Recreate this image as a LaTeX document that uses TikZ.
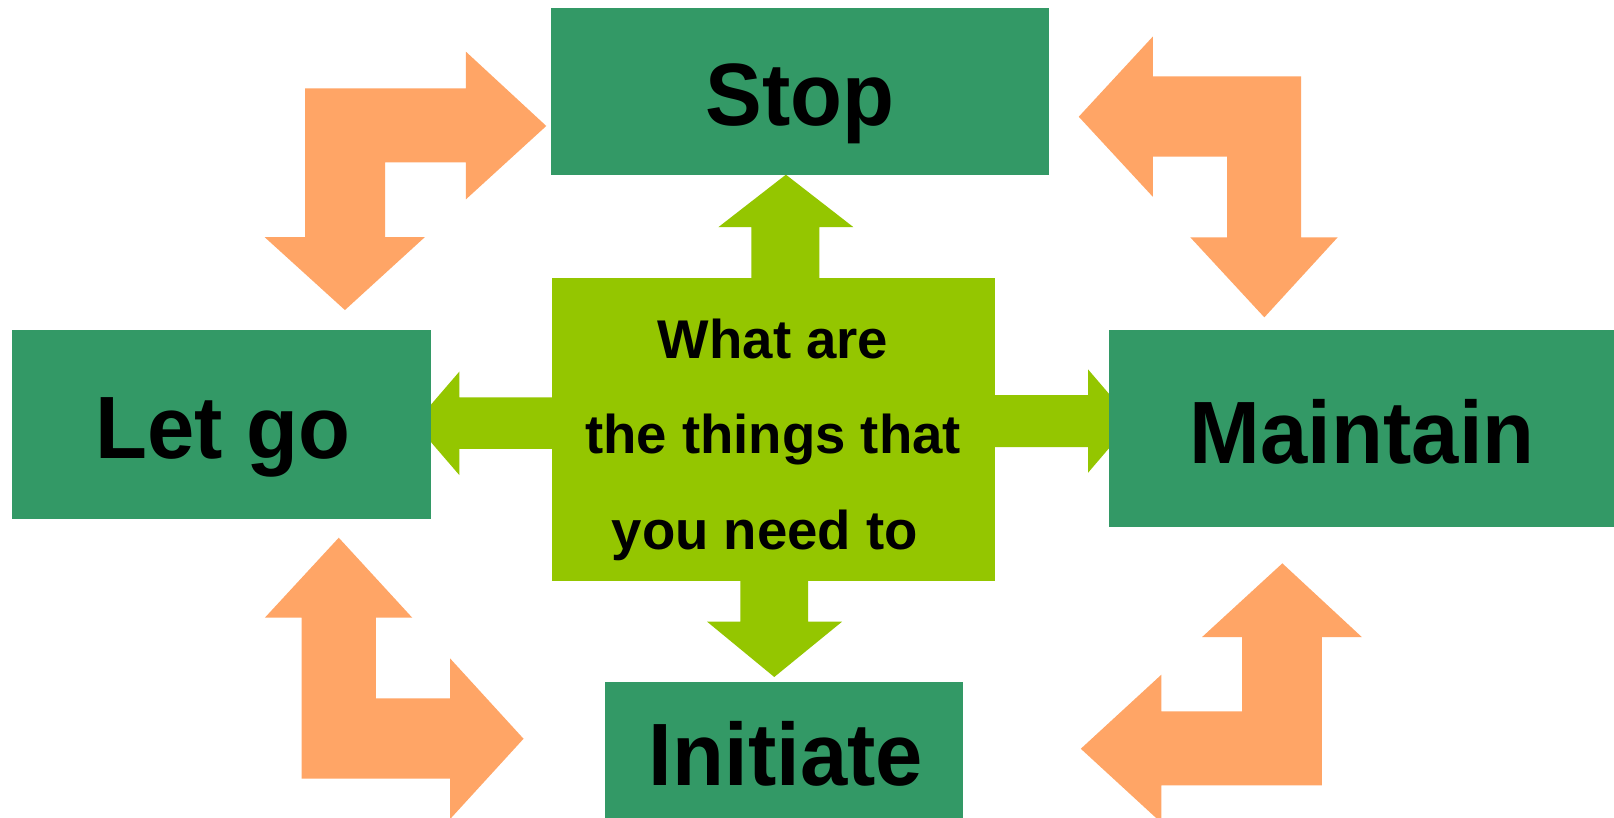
\documentclass[tikz,border=0pt]{standalone}
\usepackage{fontspec}
\setmainfont{Liberation Sans}
\definecolor{boxgreen}{RGB}{51,153,102}
\definecolor{limegreen}{RGB}{148,198,0}
\definecolor{peach}{RGB}{255,165,102}
\begin{document}
\begin{tikzpicture}[x=1pt,y=-1pt,
  box/.style={fill=boxgreen, draw=none, inner sep=0pt, outer sep=0pt},
  hub/.style={fill=limegreen, draw=none, inner sep=0pt, outer sep=0pt},
  biglabel/.style={font=\bfseries\fontsize{86}{86}\selectfont\addfontfeature{FakeStretch=0.96}, inner sep=0pt, text=black},
  hublabel/.style={font=\bfseries\fontsize{53}{92.8}\selectfont, inner sep=0pt, text=black},
  orangearrow/.style={fill=peach, draw=none},
  limearrow/.style={fill=limegreen, draw=none}]
\clip (0,0) rectangle (1568,794);
\fill[white] (0,0) rectangle (1568,794);

% orange bent arrows
\fill[orangearrow] (296.4,85.8) -- (452.6,85.8) -- (452.6,50.2) -- (530.7,122.4) -- (452.6,193.7)
  -- (452.6,157.7) -- (374.2,157.7) -- (374.2,230.3) -- (412.8,230.3) -- (335.1,301.2)
  -- (257,230.3) -- (296.4,230.3) -- cycle;
\fill[orangearrow] (1048,113.4) -- (1119.9,35.6) -- (1119.9,74.2) -- (1264.1,74.2) -- (1264.1,230.6)
  -- (1299.5,230.6) -- (1228.3,308.3) -- (1156.4,230.6) -- (1192.2,230.6) -- (1192.2,152.2)
  -- (1119.9,152.2) -- (1119.9,191.1) -- cycle;
\fill[orangearrow] (329.1,522.4) -- (400.5,600.1) -- (365.1,600.1) -- (365.1,678.5) -- (437.2,678.5)
  -- (437.2,639.6) -- (508.6,717.7) -- (437.2,795.8) -- (437.2,756.5) -- (293,756.5)
  -- (293,600.1) -- (257.3,600.1) -- cycle;
\fill[orangearrow] (1245.8,547.3) -- (1323,618.9) -- (1284.1,618.9) -- (1284.1,763) -- (1128.2,763)
  -- (1128.2,799.3) -- (1050,727.4) -- (1128.2,655.5) -- (1128.2,691.1) -- (1206.6,691.1)
  -- (1206.6,618.9) -- (1167.8,618.9) -- cycle;

% lime arrows from the hub
\fill[limearrow] (730,275) -- (730,220.6) -- (698,220.6) -- (763.5,169.7) -- (829,220.6) -- (796,220.6) -- (796,275) -- cycle;
\fill[limearrow] (719.3,560) -- (719.3,604) -- (687,604) -- (752.2,657.7) -- (818,604) -- (785,604) -- (785,560) -- cycle;
\fill[limearrow] (540,386) -- (446.2,386) -- (446.2,361.1) -- (403,411.3) -- (446.2,461.5) -- (446.2,436.2) -- (540,436.2) -- cycle;
\fill[limearrow] (962,383.8) -- (1057,383.8) -- (1057,358.8) -- (1100,409) -- (1057,459.3) -- (1057,434.3) -- (962,434.3) -- cycle;

% hub
\node[hub, minimum width=430.2pt, minimum height=294.3pt] (hub) at (751.4,416.95) {};

% boxes
\node[box, minimum width=483.2pt, minimum height=161.9pt] (stop) at (777.1,88.75) {};
\node[box, minimum width=407pt, minimum height=183.6pt] (letgo) at (215.3,412.4) {};
\node[box, minimum width=490.7pt, minimum height=191.1pt] (maintain) at (1322.65,416.15) {};
\node[box, minimum width=348.2pt, minimum height=140pt] (initiate) at (761.9,732.6) {};

% labels
\node[biglabel, anchor=base] (stoplbl) at (777.5,122.4) {Stop};
\node[biglabel, anchor=base] (letgolbl) at (216.5,445.3) {Let go};
\node[biglabel, anchor=base] (maintainlbl) at (1323.4,450.1) {Maintain};
\node[biglabel, anchor=base] (initiatelbl) at (763.5,763.3) {Initiate};
\node[hublabel, anchor=base] (hublbl) at (751,348.1)
  {\begin{tabular}[t]{@{}c@{}}What are\\the things that\\you need to\hspace*{16pt}\end{tabular}};
\end{tikzpicture}
\end{document}
